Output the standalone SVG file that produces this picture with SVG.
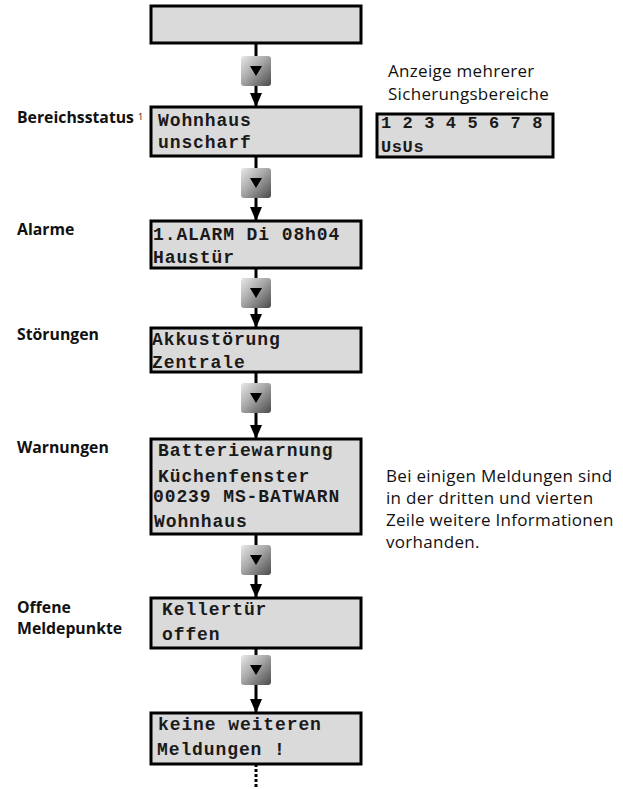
<svg xmlns="http://www.w3.org/2000/svg" width="623" height="789" viewBox="0 0 623 789">
  <style>
    .lcd { fill: #dadada; stroke: #000; stroke-width: 3; }
    .mono { font-family: "Liberation Mono", "Courier New", monospace; font-weight: bold; font-size: 18px; letter-spacing: 0.9px; fill: #1a1a1a; }
    .mono-s { font-size: 17px; letter-spacing: 0.6px; }
    .lbl { font-family: "Open Sans", "Noto Sans", sans-serif; font-weight: bold; font-size: 15.8px; fill: #111; }
    .sup { font-family: "Open Sans", "Noto Sans", sans-serif; font-size: 9px; fill: #111; }
    .note { font-family: "Open Sans", "Noto Sans", sans-serif; font-size: 17px; letter-spacing: 0.3px; fill: #111; }
    .wire { stroke: #000; stroke-width: 3; fill: none; }
  </style>
  <defs>
    <linearGradient id="btnGrad" x1="0" y1="0" x2="1" y2="1">
      <stop offset="0" stop-color="#e8e8e8"/>
      <stop offset="0.45" stop-color="#a8a8a8"/>
      <stop offset="1" stop-color="#4a4a4a"/>
    </linearGradient>
    <marker id="arrow" viewBox="0 0 14 12" refX="14" refY="6" markerWidth="14" markerHeight="12" markerUnits="userSpaceOnUse" orient="auto">
      <path d="M0,0 L14,6 L0,12 Z" fill="#000"/>
    </marker>
    <g id="btn">
      <rect x="-15" y="0" width="30" height="30" rx="3" fill="url(#btnGrad)"/>
      <path d="M-6,10 L6,10 L0,20 Z" fill="#000"/>
    </g>
  </defs>

  <!-- connectors: line down to the key, key, line + arrow to next display -->
  <g id="connectors">
    <line class="wire" x1="256" y1="43" x2="256" y2="56"/>
    <line class="wire" x1="256" y1="86" x2="256" y2="107" marker-end="url(#arrow)"/>
    <line class="wire" x1="256" y1="156" x2="256" y2="168"/>
    <line class="wire" x1="256" y1="198" x2="256" y2="221" marker-end="url(#arrow)"/>
    <line class="wire" x1="256" y1="268" x2="256" y2="278"/>
    <line class="wire" x1="256" y1="308" x2="256" y2="328" marker-end="url(#arrow)"/>
    <line class="wire" x1="256" y1="372" x2="256" y2="383"/>
    <line class="wire" x1="256" y1="413" x2="256" y2="439" marker-end="url(#arrow)"/>
    <line class="wire" x1="256" y1="534" x2="256" y2="545"/>
    <line class="wire" x1="256" y1="575" x2="256" y2="598" marker-end="url(#arrow)"/>
    <line class="wire" x1="256" y1="648" x2="256" y2="655"/>
    <line class="wire" x1="256" y1="685" x2="256" y2="713" marker-end="url(#arrow)"/>
    <line class="wire" x1="256" y1="764" x2="256" y2="789" stroke-dasharray="3 2"/>
  </g>

  <!-- down keys -->
  <g id="keys">
    <use href="#btn" x="256" y="56"/>
    <use href="#btn" x="256" y="168"/>
    <use href="#btn" x="256" y="278"/>
    <use href="#btn" x="256" y="383"/>
    <use href="#btn" x="256" y="545"/>
    <use href="#btn" x="256" y="655"/>
  </g>

  <g id="display-start">
    <rect class="lcd" x="151" y="6" width="210" height="37"/>
  </g>

  <g id="display-bereichsstatus">
    <rect class="lcd" x="151" y="107" width="210" height="49"/>
    <text class="mono" x="158" y="126">Wohnhaus</text>
    <text class="mono" x="158" y="148">unscharf</text>
  </g>

  <g id="display-bereiche">
    <rect class="lcd" x="377" y="114" width="176" height="43"/>
    <text class="mono mono-s" x="381" y="128">1 2 3 4 5 6 7 8</text>
    <text class="mono mono-s" x="381" y="152">UsUs</text>
  </g>

  <g id="display-alarme">
    <rect class="lcd" x="151" y="221" width="210" height="47"/>
    <text class="mono" x="153" y="240">1.ALARM Di 08h04</text>
    <text class="mono" x="153" y="263">Haustür</text>
  </g>

  <g id="display-stoerungen">
    <rect class="lcd" x="151" y="328" width="210" height="44"/>
    <text class="mono" x="152" y="345">Akkustörung</text>
    <text class="mono" x="152" y="368">Zentrale</text>
  </g>

  <g id="display-warnungen">
    <rect class="lcd" x="151" y="439" width="210" height="95"/>
    <text class="mono" x="158" y="456">Batteriewarnung</text>
    <text class="mono" x="158" y="482">Küchenfenster</text>
    <text class="mono" x="153" y="502">00239 MS-BATWARN</text>
    <text class="mono" x="154" y="527">Wohnhaus</text>
  </g>

  <g id="display-meldepunkte">
    <rect class="lcd" x="151" y="598" width="210" height="50"/>
    <text class="mono" x="162" y="615">Kellertür</text>
    <text class="mono" x="162" y="640">offen</text>
  </g>

  <g id="display-ende">
    <rect class="lcd" x="151" y="713" width="210" height="51"/>
    <text class="mono" x="158" y="730">keine weiteren</text>
    <text class="mono" x="157" y="755">Meldungen !</text>
  </g>

  <!-- section labels -->
  <g id="labels">
    <text class="lbl" x="17" y="123">Bereichsstatus</text>
    <text class="sup" x="138" y="120">1</text>
    <text class="lbl" x="17" y="235">Alarme</text>
    <text class="lbl" x="17" y="340">Störungen</text>
    <text class="lbl" x="17" y="453">Warnungen</text>
    <text class="lbl" x="17" y="613">Offene</text>
    <text class="lbl" x="17" y="634">Meldepunkte</text>
  </g>

  <!-- explanatory notes -->
  <g id="notes">
    <text class="note" x="388" y="77">Anzeige mehrerer</text>
    <text class="note" x="388" y="100">Sicherungsbereiche</text>
    <text class="note" x="386" y="482">Bei einigen Meldungen sind</text>
    <text class="note" x="386" y="504">in der dritten und vierten</text>
    <text class="note" x="386" y="526">Zeile weitere Informationen</text>
    <text class="note" x="386" y="548">vorhanden.</text>
  </g>
</svg>
